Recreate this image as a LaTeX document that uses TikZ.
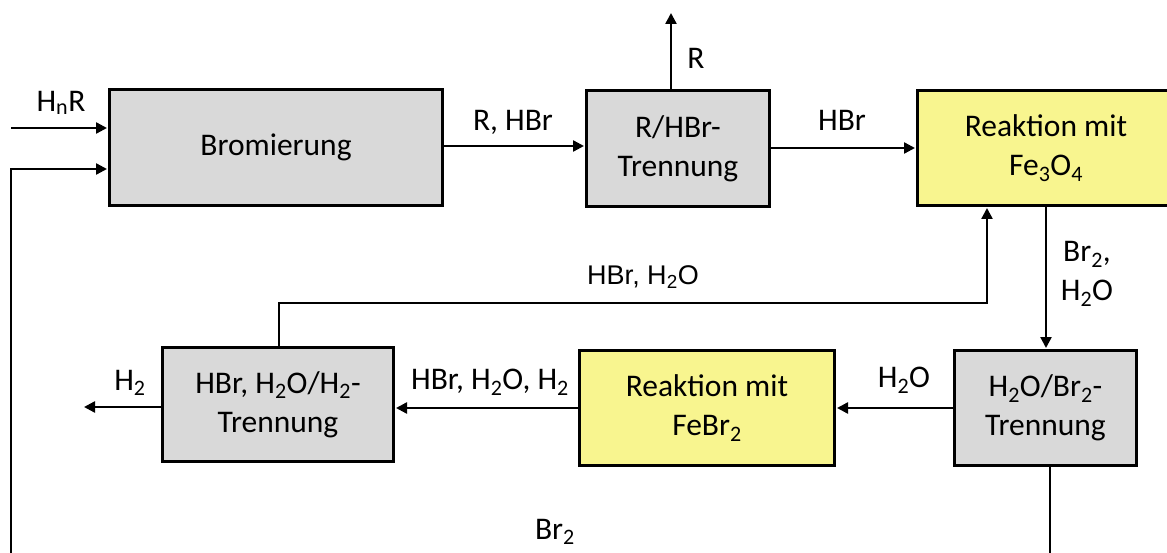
\documentclass[tikz,border=0pt]{standalone}
\usepackage{fontspec}
\setmainfont{Carlito}
\newfontfamily\arialf{Liberation Sans}
\usetikzlibrary{arrows.meta}
\definecolor{boxgray}{HTML}{D9D9D9}
\definecolor{boxyellow}{HTML}{F8F58F}
\newcommand\sbs[1]{\textsubscript{#1}}
\begin{document}
\begin{tikzpicture}[x=1pt,y=-1pt,
  font=\fontsize{31.5}{39}\selectfont,
  proc/.style={draw=black, line width=3pt, inner sep=0pt, align=center},
  gbox/.style={proc, fill=boxgray},
  ybox/.style={proc, fill=boxyellow},
  flow/.style={line width=2.4pt, -{Triangle[length=11pt,width=11pt]}, shorten >=1pt},
  pipe/.style={line width=2.4pt},
  lbl/.style={inner sep=0pt, align=center}]
\useasboundingbox (0,0) rectangle (1167,553);
\clip (0,0) rectangle (1167,553);

% process boxes
\node[gbox, minimum width=333pt, minimum height=116pt] (brom) at (276,147.5) {Bromierung};
\node[gbox, minimum width=183pt, minimum height=116pt] (rhbr) at (678,148.5) {R/HBr-\\Trennung};
\node[ybox, minimum width=257pt, minimum height=115pt] (fe) at (1046,148) {Reaktion mit\\Fe\sbs{3}O\sbs{4}};
\node[gbox, minimum width=231pt, minimum height=114pt] (h2sep) at (278,404.5) {HBr, H\sbs{2}O/H\sbs{2}-\\Trennung};
\node[ybox, minimum width=255pt, minimum height=115pt] (febr) at (707,408) {Reaktion mit\\FeBr\sbs{2}};
\node[gbox, minimum width=182pt, minimum height=115pt] (h2obr) at (1045.5,408) {H\sbs{2}O/Br\sbs{2}-\\Trennung};

% helper coordinates
\coordinate (in1) at (11,128);
\coordinate (c3) at (11,169);
\coordinate (b1) at (11,570);
\coordinate (b2) at (1050,570);
\coordinate (rout) at (671,12);
\coordinate (h2out) at (83,407);
\coordinate (c1) at (279,303);
\coordinate (c2) at (987,303);
\coordinate (rh) at (0,146);
\coordinate (hh) at (0,148);

% connectors
\draw[flow] (in1) -- (in1 -| brom.west);
\draw[flow] (b1) -- (c3) -- (c3 -| brom.west);
\draw[flow] (rh -| brom.east) -- (rh -| rhbr.west);
\draw[flow] (rout |- rhbr.north) -- (rout);
\draw[flow] (hh -| rhbr.east) -- (hh -| fe.west);
\draw[flow] (fe.south) -- (fe.south |- h2obr.north);
\draw[flow] (h2obr.west) -- (febr.east);
\draw[flow] (febr.west) -- (h2sep.east |- febr.west);
\draw[flow] (h2out -| h2sep.west) -- (h2out);
\draw[flow] (h2sep.north -| c1) -- (c1) -- (c2) -- (c2 |- fe.south);
\draw[pipe] (b2 |- h2obr.south) -- (b2);

% labels
\node[lbl] (lhnr) at (61,103) {H\sbs{n}R};
\node[lbl] (lrhbr) at (513,122) {R, HBr};
\node[lbl] (lr) at (696,58) {R};
\node[lbl] (lhbr) at (842,120) {HBr};
\node[lbl] (lbr2h2o) at (1087,274) {Br\sbs{2},\\H\sbs{2}O};
\node[lbl, font=\arialf\fontsize{27}{32}\selectfont] (lhbrh2o) at (643,277) {HBr, H\sbs{2}O};
\node[lbl] (lh2) at (130,383) {H\sbs{2}};
\node[lbl] (lmix) at (490,382) {HBr, H\sbs{2}O, H\sbs{2}};
\node[lbl] (lh2o) at (904,380) {H\sbs{2}O};
\node[lbl] (lbr2) at (555,532) {Br\sbs{2}};
\end{tikzpicture}
\end{document}
